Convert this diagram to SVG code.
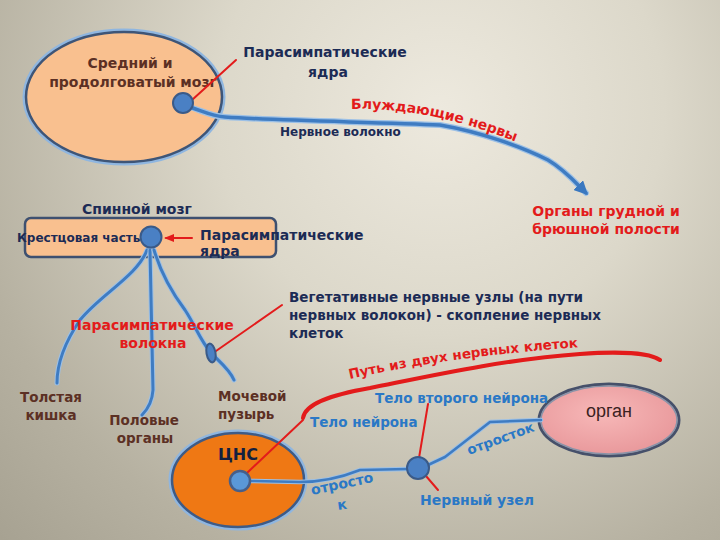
<svg xmlns="http://www.w3.org/2000/svg" width="720" height="540" viewBox="0 0 720 540">
<defs>
<radialGradient id="bg" cx="440" cy="110" r="640" gradientUnits="userSpaceOnUse">
<stop offset="0" stop-color="#ede9de"/>
<stop offset="0.35" stop-color="#dcd8ca"/>
<stop offset="0.75" stop-color="#b6b1a1"/>
<stop offset="1" stop-color="#a49f8f"/>
</radialGradient>
<radialGradient id="organFill" cx="0.45" cy="0.4" r="0.65">
<stop offset="0" stop-color="#f7b8b8"/>
<stop offset="1" stop-color="#e8979a"/>
</radialGradient>
<marker id="arr" viewBox="0 0 10 10" refX="8" refY="5" markerWidth="4" markerHeight="4" orient="auto" markerUnits="strokeWidth">
<path d="M0,0 L10,5 L0,10 z" fill="#3a78c0"/>
</marker>
<marker id="redArr" viewBox="0 0 10 10" refX="8" refY="5" markerWidth="5" markerHeight="5" orient="auto" markerUnits="strokeWidth">
<path d="M0,1 L10,5 L0,9 z" fill="#e31b1b"/>
</marker>
<path id="vagusPath" d="M351,109 Q430,107 516,142"/>
<path id="pathPath" d="M350,379 Q460,354 600,346"/>
</defs>
<style>
text{font-family:"DejaVu Sans","Liberation Sans",sans-serif;font-weight:bold}
.navy{fill:#1c2b55}
.red{fill:#e31b1b}
.brown{fill:#5c3024}
.blue{fill:#2a78c6}
.halo{fill:none;stroke:#9cc0e6;stroke-linecap:round;stroke-linejoin:round}
.fib{fill:none;stroke:#3f7cc2;stroke-linecap:round;stroke-linejoin:round}
.redln{fill:none;stroke:#e31b1b;stroke-width:2;stroke-linecap:round}
.nuc{fill:#4a80c4;stroke:#3a5a88;stroke-width:2}
</style>
<rect x="0" y="0" width="720" height="540" fill="url(#bg)"/>

<g id="midbrain">
<ellipse cx="124" cy="97" rx="99" ry="66" fill="none" stroke="#8fb6e0" stroke-width="5"/>
<ellipse cx="124" cy="97" rx="98" ry="65" fill="#f9c08f" stroke="#3e5577" stroke-width="2.5"/>
<text class="brown" x="130" y="68" font-size="14" text-anchor="middle">Средний и</text>
<text class="brown" x="133" y="87" font-size="14" text-anchor="middle">продолговатый мозг</text>
</g>

<g id="spinal">
<rect x="25" y="218" width="251" height="39" rx="6" fill="#f9c08f" stroke="#3e5070" stroke-width="2.5"/>
<text class="navy" x="82" y="214" font-size="14">Спинной мозг</text>
<text class="navy" x="17" y="242" font-size="12">Крестцовая часть</text>
</g>

<g id="cns">
<ellipse cx="238" cy="480" rx="67" ry="48" fill="none" stroke="#8fb6e0" stroke-width="5"/>
<ellipse cx="238" cy="480" rx="66" ry="47" fill="#ef7814" stroke="#3e5b86" stroke-width="2.5"/>
<text x="218" y="460" font-size="16" fill="#14203f">ЦНС</text>
</g>

<g id="organ">
<ellipse cx="609" cy="420" rx="70" ry="36" fill="none" stroke="#46506a" stroke-width="3"/>
<ellipse cx="609" cy="420" rx="68" ry="34" fill="url(#organFill)" stroke="#8a93a8" stroke-width="1.5"/>
<text x="609" y="417" font-size="18" text-anchor="middle" style="font-family:'Liberation Sans',Arial,sans-serif;font-weight:normal" fill="#3a2222">орган</text>
</g>

<g id="connectors">
<path class="halo" stroke-width="6" d="M190,107 C205,112 212,116 225,117 C280,121 380,122 440,125 C480,132 520,146 548,160 C565,170 575,182 586,193"/>
<path class="fib" stroke="#2c70ba" stroke-width="3.5" d="M190,107 C205,112 212,116 225,117 C280,121 380,122 440,125 C480,132 520,146 548,160 C565,170 575,182 586,193" marker-end="url(#arr)"/>
<path class="halo" stroke-width="5" d="M147,250 C138,275 100,295 80,320 C65,342 57,362 57,383"/>
<path class="fib" stroke-width="3" d="M147,250 C138,275 100,295 80,320 C65,342 57,362 57,383"/>
<path class="halo" stroke-width="5" d="M150,250 L153,390 Q152,405 142,415"/>
<path class="fib" stroke-width="3" d="M150,250 L153,390 Q152,405 142,415"/>
<path class="halo" stroke-width="5" d="M154,250 C160,270 170,290 185,310 C195,325 200,340 211,353 C220,362 230,370 234,380"/>
<path class="fib" stroke-width="3" d="M154,250 C160,270 170,290 185,310 C195,325 200,340 211,353 C220,362 230,370 234,380"/>
<path class="halo" stroke-width="4.5" d="M250,481 L300,482 C320,482 340,478 360,470 L408,469"/>
<path class="fib" stroke-width="2.5" d="M250,481 L300,482 C320,482 340,478 360,470 L408,469"/>
<path class="halo" stroke-width="4.5" d="M428,465 L445,457 L490,422 L541,420"/>
<path class="fib" stroke-width="2.5" d="M428,465 L445,457 L490,422 L541,420"/>
<line class="redln" x1="192" y1="100" x2="236" y2="60"/>
<line class="redln" x1="192" y1="238" x2="166" y2="238" marker-end="url(#redArr)"/>
<line class="redln" x1="282" y1="305" x2="216" y2="351"/>
<line class="redln" x1="247" y1="473" x2="303" y2="420"/>
<line class="redln" x1="419" y1="458" x2="428" y2="404"/>
<line class="redln" x1="426" y1="476" x2="438" y2="490"/>
<path fill="none" stroke="#e31b1b" stroke-width="4" stroke-linecap="round" d="M303,418 C305,404 330,395 370,388 C430,376 500,360 580,354 C620,351 650,353 660,360"/>
</g>

<g id="nuclei">
<circle class="nuc" cx="183" cy="103" r="10"/>
<circle class="nuc" cx="151" cy="237" r="10.5"/>
<ellipse class="nuc" cx="211" cy="353" rx="4.5" ry="9.5" transform="rotate(-10 211 353)"/>
<circle cx="240" cy="481" r="10" fill="#5a98d8" stroke="#465f8a" stroke-width="2.5"/>
<circle class="nuc" cx="418" cy="468" r="11"/>
</g>

<g id="labels">
<text class="navy" x="325" y="57" font-size="14" text-anchor="middle">Парасимпатические</text>
<text class="navy" x="328" y="77" font-size="14" text-anchor="middle">ядра</text>
<text class="navy" x="280" y="136" font-size="12">Нервное волокно</text>
<text class="red" font-size="14"><textPath href="#vagusPath">Блуждающие нервы</textPath></text>
<text class="red" x="606" y="216" font-size="14" text-anchor="middle">Органы грудной и</text>
<text class="red" x="606" y="234" font-size="14" text-anchor="middle">брюшной полости</text>
<text class="navy" x="200" y="240" font-size="14">Парасимпатические</text>
<text class="navy" x="200" y="256" font-size="14">ядра</text>
<text class="red" x="152" y="330" font-size="14" text-anchor="middle">Парасимпатические</text>
<text class="red" x="153" y="348" font-size="14" text-anchor="middle">волокна</text>
<text class="navy" x="289" y="302" font-size="13.5">Вегетативные нервные узлы (на пути</text>
<text class="navy" x="289" y="320" font-size="13.5">нервных волокон) - скопление нервных</text>
<text class="navy" x="289" y="338" font-size="13.5">клеток</text>
<text class="red" font-size="13.5"><textPath href="#pathPath">Путь из двух нервных клеток</textPath></text>
<text class="brown" x="51" y="402" font-size="13.5" text-anchor="middle">Толстая</text>
<text class="brown" x="51" y="420" font-size="13.5" text-anchor="middle">кишка</text>
<text class="brown" x="144" y="425" font-size="13.5" text-anchor="middle">Половые</text>
<text class="brown" x="145" y="443" font-size="13.5" text-anchor="middle">органы</text>
<text class="brown" x="218" y="401" font-size="13.5">Мочевой</text>
<text class="brown" x="218" y="419" font-size="13.5">пузырь</text>
<text class="blue" x="375" y="403" font-size="13.5">Тело второго нейрона</text>
<text class="blue" x="310" y="427" font-size="13.5">Тело нейрона</text>
<text class="blue" font-size="13.5" transform="translate(469 455) rotate(-20)">отросток</text>
<text class="blue" font-size="14" transform="translate(312 495) rotate(-12)">отросто</text>
<text class="blue" font-size="14" transform="translate(338 510) rotate(-8)">к</text>
<text class="blue" x="420" y="505" font-size="14">Нервный узел</text>
</g>
</svg>
